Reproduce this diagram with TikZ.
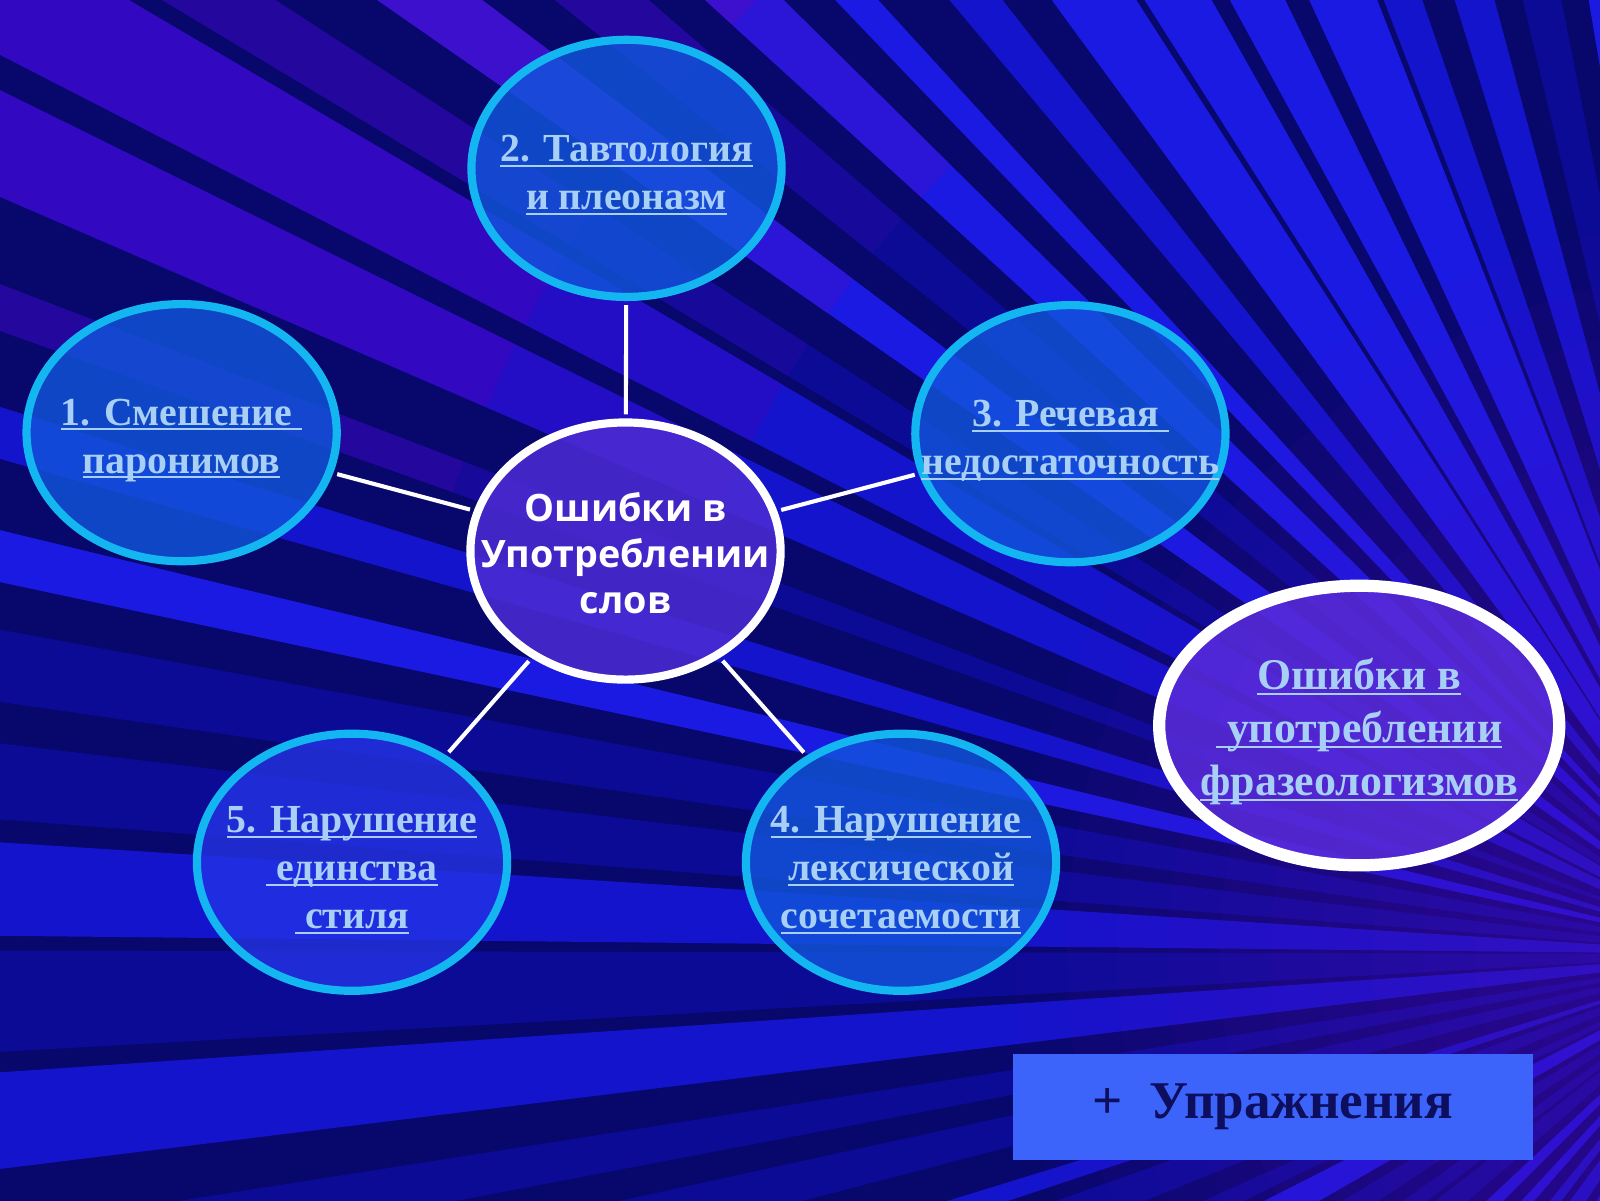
\documentclass[tikz,border=0pt]{standalone}
\usepackage{fontspec}
\usetikzlibrary{shapes.geometric,calc}
\newfontfamily\lnkfont{Liberation Serif}
\newfontfamily\ctrfont{Open Sans}
\definecolor{cyanb}{HTML}{14B6F2}
\definecolor{subfill}{HTML}{1256DC}
\definecolor{subfillv}{HTML}{2433E4}
\definecolor{ctrfill}{HTML}{4B2BD2}
\definecolor{phrfill}{HTML}{5A2CDA}
\definecolor{lnk}{HTML}{A8CFF6}
\definecolor{boxfill}{HTML}{3C64FA}
\definecolor{boxtext}{HTML}{0E0E5E}
\definecolor{navy}{HTML}{07076C}
\definecolor{rayb0}{HTML}{1A1AE2}
\definecolor{rayb1}{HTML}{1414CC}
\definecolor{rayb2}{HTML}{0B0B96}
\definecolor{rayp0}{HTML}{3C10CC}
\definecolor{rayp1}{HTML}{3208C0}
\definecolor{rayp2}{HTML}{24089E}
\definecolor{glowp}{HTML}{5A10C0}
\newlength\lnklen
\newcommand\lnk[1]{\setbox0\hbox{#1}\setlength\lnklen{\wd0}\rlap{\box0}\rule[-5pt]{\lnklen}{2pt}}
\newcommand\topstrut[1]{\rule{0pt}{#1pt}}
\tikzset{
  sub/.style={ellipse, draw=cyanb, line width=8, fill=subfill, fill opacity=0.8, text opacity=1,
    minimum width=304, minimum height=252, inner xsep=-80, inner ysep=-50, align=center, text=lnk,
    font=\lnkfont\bfseries\fontsize{39}{47}\selectfont},
  ctr/.style={ellipse, draw=white, line width=8, fill=ctrfill, fill opacity=0.88, text opacity=1,
    minimum width=304, minimum height=252, inner xsep=-80, inner ysep=-50, align=center, text=white,
    font=\ctrfont\bfseries\fontsize{37}{45}\selectfont},
  phr/.style={ellipse, draw=white, line width=12, fill=phrfill, fill opacity=0.85, text opacity=1,
    minimum width=392, minimum height=274, inner xsep=-80, inner ysep=-50, align=center, text=lnk,
    font=\lnkfont\bfseries\fontsize{43}{52}\selectfont},
  btn/.style={rectangle, fill=boxfill, minimum width=509, minimum height=104, inner sep=0,
    text=boxtext, font=\lnkfont\bfseries\fontsize{52}{60}\selectfont},
  link/.style={draw=white, line width=4, shorten <=4, shorten >=4},
}
\begin{document}
\begin{tikzpicture}[x=1pt,y=-1pt]
\useasboundingbox (0,0) rectangle (1568,1176);
\coordinate (V) at (1715,935);
\begin{scope}
\clip (-20,-20) rectangle (1600,1210);
\fill[navy] (-20,-20) rectangle (1600,1210);
\pgfmathsetseed{31}
\foreach \ii in {0,...,42}{%
  \pgfmathsetmacro\ang{116+\ii*3.8}%
  \pgfmathsetmacro\wid{1.3+2.2*rnd}%
  \pgfmathtruncatemacro\kk{3*rnd}%
  \pgfmathtruncatemacro\ai{\ang}%
  \fill[fill=rayb\kk] (V) -- +(\ang:3200) -- +(\ang+\wid:3200) -- cycle;%
  \ifnum\ai>197 \ifnum\ai<224 %
    \fill[fill=rayp\kk!50!rayb\kk] ($(V)+(\ang:1100)$) -- ($(V)+(\ang:1350)$) -- ($(V)+(\ang+\wid:1350)$) -- ($(V)+(\ang+\wid:1100)$) -- cycle;%
    \fill[fill=rayp\kk] ($(V)+(\ang:1350)$) -- ($(V)+(\ang:3200)$) -- ($(V)+(\ang+\wid:3200)$) -- ($(V)+(\ang+\wid:1350)$) -- cycle;%
  \fi\fi%
}%
\foreach \rr in {120,170,...,720}
  \fill[glowp, opacity=0.05] (V) circle (\rr);
\end{scope}

\node[sub] (e2) at (614,165) {\topstrut{39}\lnk{2. Тавтология}\\\lnk{и плеоназм}};
\node[sub] (e1) at (178,424) {\topstrut{41}\lnk{1. Смешение\ }\\\lnk{паронимов}};
\node[sub] (e3) at (1049,425) {\topstrut{40}\lnk{3. Речевая\ }\\\lnk{недостаточность}};
\node[ctr] (c) at (613,540) {\topstrut{33}Ошибки в\\Употреблении\\слов};
\node[sub, fill=subfillv] (e5) at (345,845) {\topstrut{41}\lnk{5. Нарушение}\\\lnk{\ единства}\\\lnk{\ стиля}};
\node[sub] (e4) at (883,845) {\topstrut{41}\lnk{4. Нарушение\ }\\\lnk{лексической}\\\lnk{сочетаемости}};
\node[phr] (phr) at (1332,711) {\topstrut{43}\lnk{Ошибки в}\\\lnk{\ употреблении}\\\lnk{фразеологизмов}};
\node[btn] (upr) at (1247.5,1085) {+\ \ Упражнения};

\draw[link] (e2) -- (c);
\draw[link] (e1) -- (c);
\draw[link] (e3) -- (c);
\draw[link] (e5) -- (c);
\draw[link] (e4) -- (c);
\end{tikzpicture}
\end{document}
